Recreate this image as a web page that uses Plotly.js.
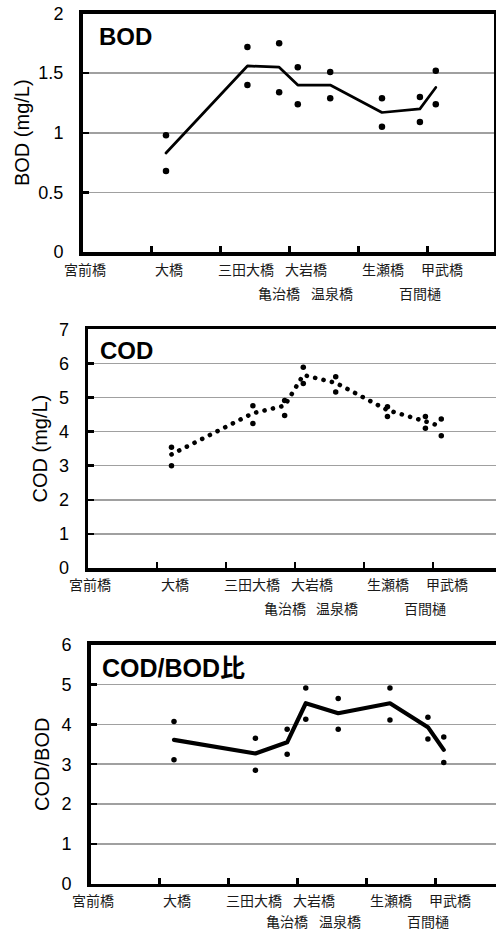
<!DOCTYPE html>
<html>
<head>
<meta charset="utf-8">
<script src="https://cdn.plot.ly/plotly-3.0.1.min.js"></script>
<style>
html,body{margin:0;padding:0;background:#fff;}
#chart{width:496px;height:931px;}
.js-line{stroke-linecap:round;stroke-linejoin:round;}
</style>
</head>
<body>
<div id="chart"></div>
<script>
// ---- data ----
var stations = ['大橋','三田大橋','亀治橋','大岩橋','温泉橋','生瀬橋','百間樋','甲武橋'];
var stationKm = [1.21, 2.39, 2.85, 3.12, 3.59, 4.34, 4.89, 5.12];

var bodMax  = [0.98, 1.72, 1.75, 1.55, 1.51, 1.29, 1.30, 1.52];
var bodMin  = [0.68, 1.40, 1.34, 1.24, 1.29, 1.05, 1.09, 1.24];
var bodMean = [0.83, 1.56, 1.55, 1.40, 1.40, 1.17, 1.20, 1.38];

var codMax  = [3.54, 4.76, 4.91, 5.89, 5.61, 4.73, 4.44, 4.37];
var codMin  = [3.00, 4.24, 4.47, 5.41, 5.16, 4.44, 4.10, 3.88];
var codMean = [3.33, 4.54, 4.76, 5.66, 5.43, 4.63, 4.30, 4.15];

var ratioMax  = [4.07, 3.65, 3.88, 4.91, 4.65, 4.91, 4.18, 3.68];
var ratioMin  = [3.11, 2.85, 3.25, 4.13, 3.88, 4.11, 3.63, 3.04];
var ratioMean = [3.61, 3.27, 3.55, 4.53, 4.28, 4.53, 3.93, 3.36];

// x-axis station labels (two rows)
var labelNames = ['宮前橋','大橋','三田大橋','亀治橋','大岩橋','温泉橋','生瀬橋','百間樋','甲武橋'];
var labelKm    = [0.03, 1.26, 2.37, 2.85, 3.24, 3.61, 4.35, 4.89, 5.21];
var labelRow   = [1, 1, 1, 2, 1, 2, 1, 2, 1];

var panelTitles = ['BOD', 'COD', 'COD/BOD比'];
var yTitles = ['BOD (mg/L)', 'COD (mg/L)', 'COD/BOD'];
var yMaxes = [2, 7, 6];
var yDticks = [0.5, 1, 1];

// ---- layout geometry (pixels) ----
var W = 496, H = 931, UNIT = 69;
var panels = [
  {left: 82.5, right: 494, top: 13.5,  bottom: 252,   titleX: 97,  titleY: 36.5, row1: 268.7, row2: 292.8, standoff: 4},
  {left: 88,   right: 496, top: 329.3, bottom: 568,   titleX: 98,  titleY: 350,  row1: 584.2, row2: 608.3, standoff: 7},
  {left: 90.5, right: 496, top: 644.7, bottom: 883.7, titleX: 100, titleY: 667.5, row1: 899.7, row2: 921, standoff: 7}
];
var series = [
  {max: bodMax, min: bodMin, mean: bodMean, lw: 2.7, dash: 'solid', ms: 6.5},
  {max: codMax, min: codMin, mean: codMean, lw: 4.6, dash: '0.1px,8.5px', ms: 5.5},
  {max: ratioMax, min: ratioMin, mean: ratioMean, lw: 4.2, dash: 'solid', ms: 5.5}
];

var tickFont = {family: 'Liberation Sans, Arial, sans-serif', size: 18, color: '#000'};
var labelFont = {family: 'Noto Sans CJK JP, sans-serif', size: 14, color: '#1a1a1a'};

var traces = [];
var layout = {
  width: W, height: H,
  margin: {l: 0, r: 0, t: 0, b: 0},
  paper_bgcolor: '#fff', plot_bgcolor: '#fff',
  showlegend: false,
  annotations: []
};

panels.forEach(function (p, i) {
  var n = i === 0 ? '' : String(i + 1);
  var xa = 'x' + n, ya = 'y' + n;
  var s = series[i];
  traces.push({x: stationKm, y: s.max, xaxis: xa, yaxis: ya, type: 'scatter', mode: 'markers',
    marker: {color: '#000', size: s.ms}, hoverinfo: 'skip', name: 'max'});
  traces.push({x: stationKm, y: s.min, xaxis: xa, yaxis: ya, type: 'scatter', mode: 'markers',
    marker: {color: '#000', size: s.ms}, hoverinfo: 'skip', name: 'min'});
  traces.push({x: stationKm, y: s.mean, xaxis: xa, yaxis: ya, type: 'scatter', mode: 'lines',
    line: {color: '#000', width: s.lw, dash: s.dash}, hoverinfo: 'skip', name: 'mean'});

  layout['xaxis' + n] = {
    domain: [p.left / W, p.right / W],
    range: [0, (p.right - p.left) / UNIT],
    anchor: ya,
    tick0: 0, dtick: 1,
    ticks: 'inside', ticklen: 6, tickwidth: 2.5, tickcolor: '#000',
    showticklabels: false,
    showgrid: false, zeroline: false,
    showline: true, linecolor: '#000', linewidth: 3.5, mirror: true,
    fixedrange: true
  };
  layout['yaxis' + n] = {
    domain: [1 - p.bottom / H, 1 - p.top / H],
    range: [0, yMaxes[i]],
    anchor: xa,
    tick0: 0, dtick: yDticks[i],
    ticks: 'inside', ticklen: 6, tickwidth: 2.5, tickcolor: '#000',
    tickfont: tickFont,
    ticklabelstandoff: 12,
    ticklabelshift: 3.5,
    showgrid: true, gridcolor: '#a0a0a0', gridwidth: 1.5,
    zeroline: false,
    showline: true, linecolor: '#000', linewidth: 3.5, mirror: true,
    title: {text: yTitles[i], font: {family: 'Liberation Sans, Arial, sans-serif', size: 20, color: '#000'},
            standoff: p.standoff},
    fixedrange: true
  };

  layout.annotations.push({
    text: panelTitles[i], xref: 'paper', yref: 'paper',
    x: p.titleX / W, y: 1 - p.titleY / H, xanchor: 'left', yanchor: 'middle',
    showarrow: false,
    font: {family: 'Liberation Sans, Noto Sans CJK JP, sans-serif', size: i === 2 ? 25 : 24, color: '#000', weight: 'bold'}
  });

  labelNames.forEach(function (name, k) {
    var rowY = labelRow[k] === 1 ? p.row1 : p.row2;
    layout.annotations.push({
      text: name, xref: xa, yref: 'paper',
      x: labelKm[k], y: 1 - rowY / H, xanchor: 'center', yanchor: 'middle',
      showarrow: false, borderpad: 0, font: labelFont
    });
  });
});

Plotly.newPlot('chart', traces, layout, {staticPlot: true, displayModeBar: false});
</script>
</body>
</html>
